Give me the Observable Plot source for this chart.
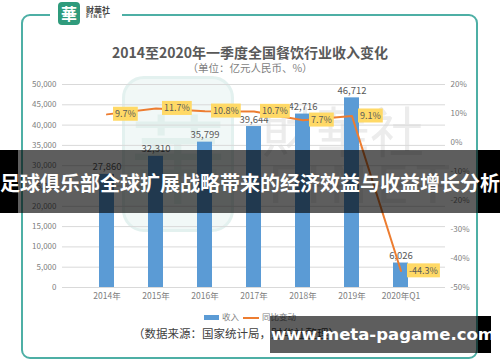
<!DOCTYPE html>
<html><head><meta charset="utf-8">
<script src="https://cdn.jsdelivr.net/npm/d3@7"></script>
<script src="https://cdn.jsdelivr.net/npm/@observablehq/plot@0.6"></script>
<style>
body{margin:0;background:#fff;font-family:"Noto Sans CJK SC","Noto Sans",sans-serif;}
#wrap{position:relative;width:500px;height:362px;overflow:hidden;background:#fff;}
.abs{position:absolute;white-space:nowrap;}
#chart{position:absolute;left:0;top:0;}
</style></head><body>
<div id="wrap">
  <div class="abs" style="left:21px;top:14px;width:457px;height:345px;box-sizing:border-box;border:2px solid #4DAFA5;border-radius:9px;"></div>
  <div class="abs" style="left:50px;top:8px;width:72px;height:12px;background:#fff;"></div>
  <div class="abs" style="left:58px;top:2px;width:22px;height:23px;background:#2F9B7C;border-radius:4px;color:#fff;font-weight:bold;font-size:16px;line-height:23px;text-align:center;">華</div>
  <div class="abs" style="left:86px;top:5px;font-size:8px;line-height:9px;font-weight:bold;color:#444;">财華社</div>
  <div class="abs" style="left:86px;top:13px;font-size:5px;line-height:6px;font-weight:bold;color:#666;letter-spacing:1px;font-family:'DejaVu Sans',sans-serif;">FINET</div>
  <!-- faint watermark -->
  <div class="abs" style="left:122px;top:76px;width:106px;height:150px;border:3px solid #e3f1ef;border-radius:22px;background:#f1f8f7;color:#e2f0ed;font-size:96px;line-height:150px;text-align:center;">華</div>
  <div class="abs" style="left:262px;top:98px;font-size:54px;line-height:64px;color:#ececec;letter-spacing:0px;">財華社</div>
  <div class="abs" style="left:268px;top:155px;font-size:52px;line-height:60px;color:#eeeeee;letter-spacing:8px;font-family:'DejaVu Sans',sans-serif;">FINET</div>
  <div class="abs" id="title" style="left:0;width:500px;text-align:center;top:43px;font-size:14px;line-height:18px;font-weight:bold;color:#595959;"></div>
  <div class="abs" id="subtitle" style="left:0;width:500px;text-align:center;top:61px;font-size:10.5px;line-height:14px;color:#7f7f7f;"></div>
  <div id="chart"></div>
  <div class="abs" id="legend" style="left:204px;top:309px;font-size:8.5px;line-height:14px;color:#7f7f7f;"></div>
  <div class="abs" id="source" style="left:133px;top:325px;font-size:11.5px;line-height:16px;color:#404040;"></div>
  <!-- overlays -->
  <div class="abs" style="left:0;top:150px;width:18px;height:63px;background:#000;"></div>
  <div class="abs" style="left:478px;top:150px;width:22px;height:63px;background:#000;"></div>
  <div class="abs" style="left:18px;top:150px;width:460px;height:63px;background:rgba(0,0,0,0.63);"></div>
  <div class="abs" id="banner" style="left:0;top:150px;width:500px;height:63px;line-height:66px;text-align:center;color:#fff;font-weight:bold;font-size:20px;"></div>
  <div class="abs" style="left:478px;top:316px;width:13px;height:37px;background:#000;"></div>
  <div class="abs" style="left:270px;top:316px;width:208px;height:37px;background:rgba(0,0,0,0.63);"></div>
  <div class="abs" id="url" style="left:271px;top:316px;width:208px;height:37px;line-height:37px;text-align:center;color:#fff;font-weight:bold;font-size:16.5px;font-family:'DejaVu Sans',sans-serif;"></div>
</div>
<script>
const titleText = "2014至2020年一季度全国餐饮行业收入变化";
const subtitleText = "（单位：亿元人民币、%）";
const sourceText = "（数据来源：国家统计局，财华社整理）";
const bannerText = "足球俱乐部全球扩展战略带来的经济效益与收益增长分析";
const urlText = "www.meta-pagame.com";

const years = ["2014年","2015年","2016年","2017年","2018年","2019年","2020年Q1"];
const revenue = [27860, 32310, 35799, 39644, 42716, 46712, 6026];
const growth = [9.7, 11.7, 10.8, 10.7, 7.7, 9.1, -44.3];
const revTicks = [0, 5000, 10000, 15000, 20000, 25000, 30000, 35000, 40000, 45000, 50000];
const pctTicks = [20, 10, 0, -10, -20, -30, -40, -50];
const seriesNames = ["收入", "同比变动"];
const colors = {rev: "#5B9BD5", growth: "#ED7D31", label: "#FFD966"};

document.getElementById("title").textContent = titleText;
document.getElementById("subtitle").textContent = subtitleText;
document.getElementById("source").textContent = sourceText;
document.getElementById("banner").textContent = bannerText;
document.getElementById("url").textContent = urlText;
document.getElementById("legend").innerHTML =
  `<span style="display:inline-block;width:15px;height:5px;background:${colors.rev};vertical-align:middle;margin-right:3px"></span>${seriesNames[0]}` +
  `<span style="display:inline-block;width:16px;height:2px;background:${colors.growth};vertical-align:middle;margin:0 3px 0 4px"></span>${seriesNames[1]}`;

const revMax = d3.max(revTicks), pMin = d3.min(pctTicks), pMax = d3.max(pctTicks);
const toRev = p => (p - pMin) / (pMax - pMin) * revMax;
const toPct = v => Math.round(v / revMax * (pMax - pMin) + pMin);

const rows = years.map((y, i) => ({year: y, rev: revenue[i], g: growth[i], gy: toRev(growth[i])}));

const chart = Plot.plot({
  width: 500, height: 362,
  marginLeft: 62, marginRight: 55, marginTop: 84, marginBottom: 75,
  style: {background: "transparent", fontFamily: "'Noto Sans CJK SC', sans-serif", color: "#808080", overflow: "visible"},
  x: {domain: years, padding: 0.69, axis: null},
  y: {domain: [0, revMax], axis: null},
  marks: [
    Plot.gridY(revTicks, {stroke: "#d9d9d9", strokeOpacity: 1}),
    Plot.axisY(revTicks, {tickSize: 0, tickPadding: 6, tickFormat: d3.format(","), fontSize: 8}),
    Plot.axisY(pctTicks.map(toRev), {anchor: "right", tickSize: 0, tickPadding: 5, tickFormat: v => toPct(v) + "%", fontSize: 8}),
    Plot.axisX({tickSize: 0, tickPadding: 5, fontSize: 8.5, label: null}),
    Plot.barY(rows, {x: "year", y: "rev", fill: colors.rev}),
    Plot.text(rows, {x: "year", y: "rev", text: d => d3.format(",")(d.rev), dy: -4, lineAnchor: "bottom", fontSize: 9.5, fill: "#595959"}),
    Plot.line(rows, {x: "year", y: "gy", stroke: colors.growth, strokeWidth: 2}),
    Plot.text(rows, {x: "year", y: "gy", text: d => d.g.toFixed(1) + "%", dx: 8, textAnchor: "start", fontSize: 9, fill: "#595959"})
  ]
});
document.getElementById("chart").appendChild(chart);

// yellow label boxes behind the percentage labels (last text mark)
const textGroups = chart.querySelectorAll('g[aria-label="text"]');
const pctGroup = textGroups[textGroups.length - 1];
pctGroup.querySelectorAll("text").forEach(t => {
  const b = t.getBBox();
  const r = document.createElementNS("http://www.w3.org/2000/svg", "rect");
  r.setAttribute("x", b.x - 2); r.setAttribute("y", b.y - 0.5);
  r.setAttribute("width", b.width + 4); r.setAttribute("height", b.height + 1);
  r.setAttribute("fill", colors.label);
  r.setAttribute("stroke", "none");
  const tr = t.getAttribute("transform");
  if (tr) r.setAttribute("transform", tr);
  t.parentNode.insertBefore(r, t);
});
</script>
</body></html>
